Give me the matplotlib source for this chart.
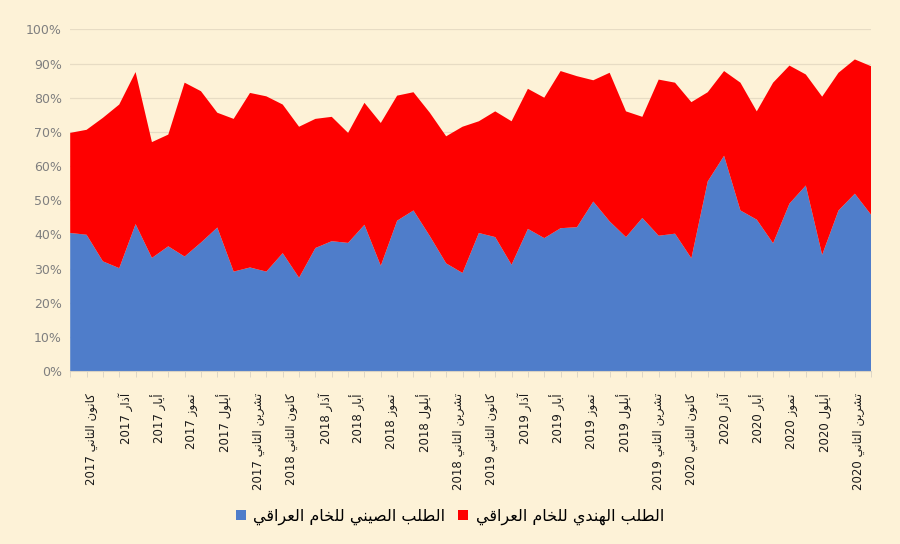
import re
import numpy as np
import matplotlib
matplotlib.use('Agg')
import matplotlib.pyplot as plt
from matplotlib.patches import Patch

# Share of Iraqi crude exports (%), monthly, Nov 2016 - Dec 2020
china_share = [40.4, 39.9, 32.1, 30.1, 43.0, 33.1, 36.5, 33.5, 37.6, 42.0,
               29.1, 30.3, 29.1, 34.5, 27.3, 36.0, 38.0, 37.5, 42.8, 30.8,
               44.0, 47.0, 39.5, 31.5, 28.7, 40.4, 39.2, 31.1, 41.6, 38.9,
               41.8, 42.1, 49.6, 43.8, 39.2, 44.8, 39.6, 40.2, 33.0, 55.5,
               63.0, 47.0, 44.3, 37.4, 49.0, 54.3, 34.0, 47.0, 51.9, 45.7]
india_share = [29.3, 30.7, 42.0, 47.9, 44.5, 33.9, 32.7, 50.9, 44.3, 33.6,
               44.7, 51.1, 51.3, 43.5, 44.2, 37.8, 36.4, 32.2, 35.7, 41.8,
               36.6, 34.6, 36.1, 37.2, 42.8, 32.7, 36.8, 42.0, 41.0, 41.1,
               46.0, 44.2, 35.5, 43.5, 36.8, 29.6, 45.7, 44.2, 45.7, 26.1,
               24.8, 37.4, 31.7, 47.0, 40.4, 32.5, 46.3, 40.3, 39.3, 43.5]

months = ['كانون الثاني', 'آذار', 'أيار', 'تموز', 'أيلول', 'تشرين الثاني']
years = ['2017', '2018', '2019', '2020']
tick_labels = [m + ' ' + y for y in years for m in months]

label_china = 'الطلب الصيني للخام العراقي'
label_india = 'الطلب الهندي للخام العراقي'

# minimal Arabic shaping (matplotlib has no bidi / joining support)
DUAL = {'ب': 0xFE8F, 'ت': 0xFE95, 'ث': 0xFE99, 'خ': 0xFEA5, 'ش': 0xFEB5,
        'ص': 0xFEB9, 'ط': 0xFEC1, 'ع': 0xFEC9, 'ق': 0xFED5, 'ك': 0xFED9,
        'ل': 0xFEDD, 'م': 0xFEE1, 'ن': 0xFEE5, 'ه': 0xFEE9, 'ي': 0xFEF1}
RIGHT = {'ا': 0xFE8D, 'آ': 0xFE81, 'أ': 0xFE83, 'د': 0xFEA9, 'ذ': 0xFEAB,
         'ر': 0xFEAD, 'ز': 0xFEAF, 'و': 0xFEED}


def shape(s):
    out = []
    for i, ch in enumerate(s):
        prev = s[i - 1] if i > 0 else ''
        nxt = s[i + 1] if i + 1 < len(s) else ''
        if ch in DUAL:
            base = DUAL[ch]
        elif ch in RIGHT:
            base = RIGHT[ch]
        else:
            out.append(ch)
            continue
        jp = prev in DUAL
        jn = ch in DUAL and (nxt in DUAL or nxt in RIGHT)
        form = 3 if (jp and jn) else 1 if jp else 2 if jn else 0
        out.append(chr(base + form))
    vis = ''.join(out)[::-1]
    return re.sub(r'\d+', lambda m: m.group(0)[::-1], vis)


bg = '#fdf2d7'
blue = '#4f7dca'
red = '#fe0000'

fig = plt.figure(figsize=(9, 5.44), dpi=100, facecolor=bg)
ax = fig.add_axes([0.078, 0.318, 0.89, 0.628], facecolor=bg)

x = np.arange(len(china_share))
ax.stackplot(x, np.array(china_share) / 100, np.array(india_share) / 100,
             colors=[blue, red], linewidth=0, zorder=2)

ax.set_xlim(0, len(x) - 1)
ax.set_ylim(0, 1.0)
ax.set_yticks(np.arange(0, 1.01, 0.1))
ax.set_yticklabels([f'{int(round(v * 100))}%' for v in np.arange(0, 1.01, 0.1)],
                   color='#7f7f7f', fontsize=9)
ax.grid(axis='y', color='#e7dcc4', linewidth=0.9, zorder=0)
ax.tick_params(axis='y', length=0, pad=6)

tick_pos = np.linspace(1.33, 48.2, len(tick_labels))
ax.set_xticks(tick_pos)
ax.set_xticklabels([shape(t) for t in tick_labels], rotation=90,
                   fontsize=8.5, color='#1a1a1a', va='top', ha='center')
ax.set_xticks(x, minor=True)
ax.tick_params(axis='x', which='major', length=0, pad=16)
ax.tick_params(axis='x', which='minor', length=4, color='#d9d2c3')

for s in ['top', 'right', 'left']:
    ax.spines[s].set_visible(False)
ax.spines['bottom'].set_color('#d9d2c3')

handles = [Patch(facecolor=blue, label=shape(label_china)),
           Patch(facecolor=red, label=shape(label_india))]
fig.legend(handles=handles, loc='center', bbox_to_anchor=(0.5, 0.05),
           ncol=2, frameon=False, fontsize=11.5, handlelength=0.6,
           handleheight=0.6, columnspacing=0.8, handletextpad=0.5)

fig.savefig('out.png', dpi=100, facecolor=bg)
